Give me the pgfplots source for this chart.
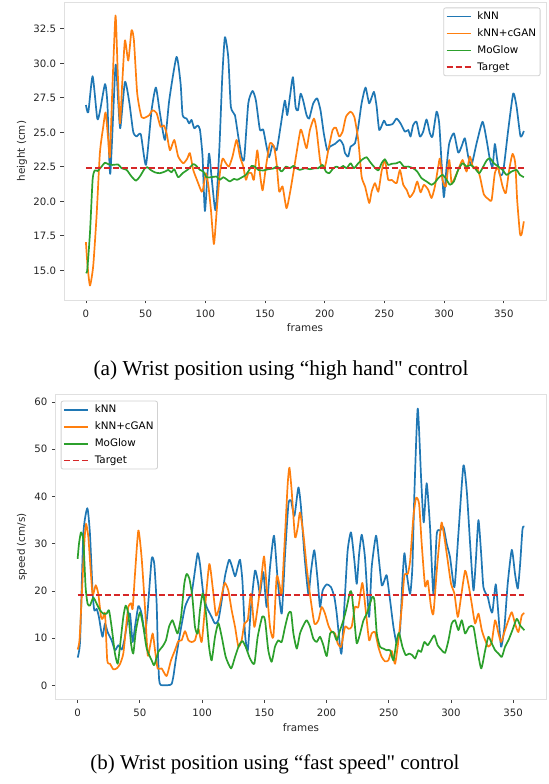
\documentclass[border=0pt]{standalone}
\usepackage{pgfplots}
\pgfplotsset{compat=1.18}
\usepackage{fontspec}
\setmainfont{DejaVu Sans}
\newfontfamily\capfont{Liberation Serif}
\definecolor{c0}{HTML}{1F77B4}
\definecolor{c1}{HTML}{FF7F0E}
\definecolor{c2}{HTML}{2CA02C}
\definecolor{c3}{HTML}{D62728}
\newcommand{\tfont}{\fontsize{10.2}{12}\selectfont}
\newcommand{\lfont}{\fontsize{10.4}{12}\selectfont}
\pgfplotsset{
  mystyle/.style={
    scale only axis,
    anchor=south west,
    axis line style={draw=black!12, line width=0.8bp},
    tick align=outside,
    major tick length=3.5bp,
    tick style={black!75, line width=0.8bp},
    xtick pos=left, ytick pos=left,
    tick label style={font=\tfont, text=black!85},
    xticklabel style={yshift=-2.5bp},
    yticklabel style={xshift=-1bp},
    label style={font=\lfont, text=black!85},
    /pgf/number format/assume math mode=true,
    legend cell align=left,
    legend style={font=\lfont, draw=black!18, line width=0.8bp, rounded corners=2pt, fill=white, inner xsep=2bp, inner ysep=2bp, row sep=3.6bp, /tikz/every odd column/.append style={column sep=4bp}},
    legend image code/.code={\draw[##1, line width=1.7bp] (0bp,0bp) -- (24bp,0bp);},
    every axis plot/.append style={line width=1.7bp, line join=round, smooth, tension=0.35},
  }
}
\begin{document}
\begin{tikzpicture}
\path[use as bounding box] (0bp,0bp) rectangle (549bp,784bp);
% ---------------- top plot
\begin{axis}[mystyle,
  at={(64bp,484bp)}, width=482bp, height=298bp,
  xmin=-18.35, xmax=385.35, ymin=12.85, ymax=34.45,
  xtick={0,50,...,350},
  ytick={15,17.5,20,22.5,25,27.5,30,32.5},
  yticklabel style={/pgf/number format/.cd, fixed, fixed zerofill, precision=1},
  xlabel={frames}, ylabel={height (cm)},
  xlabel style={at={(axis description cs:0.5,-0.094)}, anchor=center},
  ylabel style={at={(axis description cs:-0.0871,0.5)}, anchor=center},
  legend style={at={(1,1)}, anchor=north east, xshift=-5.5bp, yshift=-5.5bp},
]
\addplot[c0] coordinates {
(0,26.98)(2,26.45)(5.6,29.07)(9.5,26.0)(11.7,26.5)(16,28.5)(18,27.1)(20.4,22.0)(24.8,29.86)(27,27.3)(28.8,25.3)(32.7,28.66)(36.3,27.2)(39.6,25.05)(42.4,24.7)(46,24.86)(50.3,22.64)(55,26.6)(58.6,28.25)(62,26.4)(66.2,24.45)(69.8,27.34)(75.9,30.47)(79.3,28.54)(81,26.25)(84.3,26.0)(86.5,25.65)(88.5,25.9)(90.7,25.3)(93.5,25.5)(95.5,25.2)(97.7,23.25)(99.7,19.3)(103,23.44)(105.2,21.8)(108.6,19.35)(111.7,23.7)(114.2,29.0)(116.4,31.9)(119.2,30.47)(121.4,26.86)(124.8,26.25)(127.6,24.7)(130.4,23.25)(132.6,23.1)(136,27.1)(139.6,28.0)(142.4,27.3)(145.7,25.2)(148.5,25.2)(151.3,23.97)(153.5,23.2)(156.3,24.1)(159.7,23.7)(163,25.4)(166.6,27.3)(168.6,26.25)(170.9,27.6)(173.4,29.0)(175.6,26.86)(177.6,26.6)(179.8,27.8)(182,27.3)(184.8,26.25)(187,26.0)(190.4,27.1)(193.7,27.46)(196.5,26.6)(199.3,24.9)(202.1,23.7)(204.4,23.97)(208.5,24.16)(212.7,24.45)(215.5,24.1)(217,23.5)(219.7,23.25)(221.7,23.97)(225.3,24.2)(228.1,25.4)(230.9,27.1)(234.2,28.25)(237.3,27.1)(241.2,27.94)(243.5,26.86)(245.7,25.17)(249.6,25.85)(251.8,25.53)(256.8,25.6)(260.2,26.0)(263.5,25.65)(267.2,25.05)(270,25.17)(271.9,24.7)(274.1,25.53)(276.9,25.77)(279.7,24.7)(282.5,25.05)(285.3,25.94)(288.1,24.93)(290.3,24.7)(293.7,26.5)(295.9,25.65)(297.9,22.76)(299.8,20.3)(302.1,22.52)(304.3,24.2)(308.2,24.93)(311.8,23.53)(314.6,23.97)(317.4,24.57)(320.2,23.25)(323,22.64)(327.2,24.2)(332.2,25.77)(335.6,24.45)(338.4,23.0)(340.6,22.52)(342.5,24.16)(344.5,23.0)(346.7,21.92)(349.5,22.16)(353.7,25.17)(357.9,27.82)(360.7,26.86)(364,24.7)(366.8,25.1)
};
\addlegendentry{kNN}
\addplot[c1] coordinates {
(0,17.04)(1.4,15.3)(3.4,13.9)(6.1,15.3)(8.9,18.9)(11.7,23.5)(14.5,25.4)(16.5,26.45)(18.7,24.45)(20.1,23.25)(22.3,28.5)(24.8,33.47)(26.5,29.74)(28.5,25.65)(30.4,28.54)(32.7,31.67)(35.5,30.2)(38.2,32.4)(40.2,31.67)(43,27.8)(46.6,26.1)(50.3,26.1)(53,26.25)(55.8,26.6)(59.2,26.4)(62.5,25.4)(65.3,25.5)(67.6,24.93)(70.4,23.7)(74,24.45)(77.3,23.25)(81.5,22.76)(84.9,23.1)(87.1,23.5)(89.9,22.28)(93.5,21.44)(96.9,20.7)(98.3,20.96)(100.5,22.04)(102.5,21.2)(104.7,19.4)(107.2,16.9)(109.4,19.15)(112.2,22.04)(114.5,23.1)(117,22.8)(119.8,22.52)(122.8,23.25)(126.2,24.45)(129,23.25)(131.8,22.52)(134,21.56)(136,22.04)(138.7,22.04)(140.7,21.56)(143.5,23.7)(145.7,22.04)(148,20.8)(150.8,22.52)(154.1,24.2)(157.5,23.97)(159.7,22.76)(161.9,20.7)(164.7,21.08)(168,19.5)(170.9,20.6)(173.7,22.04)(176.4,23.5)(179.8,25.2)(182,24.7)(184.8,23.85)(187.6,25.17)(191,26.0)(193.2,25.17)(196.5,22.76)(200.2,22.52)(203,23.7)(206.6,25.17)(209.4,25.34)(212.2,24.7)(215,25.05)(217.8,26.13)(221.7,26.5)(224.8,26.13)(228.1,24.45)(230.9,21.8)(233.8,21.08)(237.3,19.88)(239.3,20.7)(242.1,21.32)(244.9,20.7)(247.6,22.16)(250.4,23.0)(253.2,21.56)(256,21.56)(260.2,21.32)(263,22.28)(265.8,21.2)(268.6,20.84)(271.3,20.3)(274.7,20.7)(277.5,21.44)(280.3,20.65)(283.1,21.2)(286.7,20.84)(289.5,20.24)(292.3,21.08)(295.1,22.52)(296.5,23.1)(298.7,21.56)(301.5,21.08)(304.3,23.0)(306.2,21.32)(308.2,21.56)(311.8,22.28)(315.5,23.0)(318.8,22.16)(321.6,23.25)(324.4,22.4)(327.2,22.52)(330,21.8)(333.3,20.5)(337,20.17)(339.8,20.1)(342.5,22.04)(345.3,22.4)(349,21.08)(351.7,20.6)(354.5,22.28)(357.3,23.44)(359.6,22.76)(361.2,20.1)(363.5,17.7)(364.9,17.6)(366.8,18.55)
};
\addlegendentry{kNN+cGAN}
\addplot[c2] coordinates {
(0,14.87)(1.1,15.0)(3.4,17.7)(5.6,21.56)(7.3,22.24)(9.8,22.2)(13.1,22.52)(15.9,22.8)(18.7,22.7)(22.3,22.64)(27,22.67)(29.9,22.4)(34.1,22.28)(38.2,21.8)(41.9,21.5)(45.2,21.8)(49.4,22.4)(51.4,22.48)(54.2,22.28)(57.8,22.1)(62,22.04)(66.2,22.16)(69,22.28)(71.7,22.1)(74,22.33)(77.3,21.75)(81,22.04)(85.7,22.33)(89.9,22.7)(92.1,22.6)(95.5,22.28)(98.3,22.16)(101,21.75)(105.2,21.75)(109.4,21.8)(112.2,21.56)(115,21.75)(117.8,21.6)(120.6,21.44)(124,21.63)(126.7,21.56)(130.4,21.73)(134,21.92)(136.8,22.28)(138.7,22.57)(141.5,22.52)(144.3,22.28)(148.5,22.24)(152.7,22.33)(156.9,22.38)(160.2,22.52)(163.9,22.16)(167.5,22.52)(170.9,22.4)(173.7,22.57)(176.4,22.4)(179.2,22.28)(183.4,22.4)(187.6,22.33)(191.8,22.4)(194.6,22.4)(198.2,22.64)(201,22.16)(203.8,22.04)(207.2,22.4)(210,22.52)(212.7,22.4)(215.5,22.57)(218.3,22.4)(221.7,22.76)(224.5,22.4)(228.1,22.76)(231.7,23.05)(235.1,23.2)(237.8,22.88)(241.2,22.52)(244.9,22.24)(247.6,22.76)(250.4,23.05)(253.2,22.64)(256,22.72)(260.2,22.76)(263,22.86)(266.3,22.52)(270,22.52)(274.1,22.4)(277.5,22.16)(281.1,21.68)(285.3,21.44)(289.5,21.2)(292.3,21.37)(295.1,21.68)(298.7,21.92)(302.1,21.56)(304.9,21.2)(308.2,21.44)(311.8,22.28)(315.5,22.76)(318.8,22.52)(322.2,22.64)(325.8,22.4)(329.4,22.04)(332.8,22.52)(335.6,22.96)(338.4,23.13)(341.7,22.76)(345.3,22.52)(349,22.28)(352.3,21.92)(356.5,22.16)(360.7,22.28)(363.5,21.92)(366.8,21.75)
};
\addlegendentry{MoGlow}
\addplot[c3, sharp plot, dash pattern=on 6bp off 3bp] coordinates {(0,22.4)(367,22.4)};
\addlegendentry{Target}
\end{axis}
% ---------------- bottom plot
\begin{axis}[mystyle,
  at={(55.3bp,84.7bp)}, width=491.4bp, height=304.6bp,
  xmin=-17.95, xmax=376.95, ymin=-2.93, ymax=61.53,
  xtick={0,50,...,350},
  ytick={0,10,...,60},
  xlabel={frames}, ylabel={speed (cm/s)},
  xlabel style={at={(axis description cs:0.5,-0.0942)}, anchor=center},
  ylabel style={at={(axis description cs:-0.0678,0.5)}, anchor=center},
  legend style={at={(0,1)}, anchor=north west, xshift=5.4bp, yshift=-6bp},
]
\addplot[c0] coordinates {
(0,5.9)(2,9.56)(4.6,32.1)(7.8,37.5)(9.9,32.1)(12.1,19.4)(13.4,15.9)(15.3,16.2)(17.1,14.5)(18.8,11.7)(20.1,10.3)(22,13.1)(24.1,11.3)(27.3,9.56)(30,7.45)(32.7,8.5)(35.4,7.6)(37.5,9.56)(40.2,13.8)(42.1,15.2)(44.2,9.2)(46.1,12.4)(48.8,16.8)(51.4,15.2)(54.1,11.0)(56.3,15.9)(59.5,26.8)(61.6,25.7)(63.5,17.3)(64.5,7)(65.5,1.2)(66.8,0.1)(72.9,0.07)(75.5,0.3)(77,2)(78.8,5.34)(82.3,11)(86.3,16.6)(89.8,18.7)(91.6,19.4)(94.3,24.3)(96.5,28.0)(98.3,25.7)(101,19.4)(103.7,16.6)(107.7,14.5)(110.4,13.1)(113.1,13.8)(115.8,18)(118.4,23.1)(121.7,26.6)(123.8,25.4)(126.5,23.1)(128.6,25.0)(130.5,26.6)(132.4,22.2)(134.5,11.0)(136.7,7.3)(139.3,16.6)(142.5,24.3)(144.7,22.2)(146.6,19.4)(149.2,24)(151.9,16.6)(154.6,25)(157.8,31.7)(160.8,22.2)(164,15.2)(166.7,27.8)(169.4,38.4)(171.5,39.1)(174.2,35.9)(177.4,41.9)(179.5,37.7)(182.2,27.8)(185.4,19.4)(187.6,24.3)(190.2,28.6)(192.9,22.2)(194.8,16.6)(196.9,20.1)(200.2,21.4)(203.6,20.8)(206.3,18.7)(208.2,15.2)(210.9,8.2)(212.2,7.1)(214.9,19.4)(217,28.6)(219.7,32.4)(222.4,26.4)(224.3,21.5)(226.2,27.8)(228.3,31.9)(230.9,27.1)(234.2,14.5)(236.3,25)(239.8,31.7)(242.2,26.4)(244.4,21.2)(246.5,22.2)(248.4,23.3)(251.1,18)(253.8,12.4)(256.4,8.9)(259.1,11.7)(261,22.2)(262.6,28.0)(264.5,23.6)(267.2,19.4)(269,25)(270.6,40.5)(273.3,58.6)(276,44)(278.1,34.5)(280.5,42.8)(283.2,33.5)(285.9,19.4)(288.6,32.1)(291.3,32.8)(294,33.5)(296.6,30)(299.3,27.1)(302.8,20.8)(306,32.1)(310,46.5)(312.7,41.2)(315.4,30)(318.1,20.1)(320,26.4)(322.1,35)(324.3,27.8)(326.1,20.8)(329.6,18.7)(331.4,16.6)(333.3,15.5)(336,21.4)(338.1,15.2)(340.3,8.2)(343,12.4)(345.6,21.5)(348.9,28.7)(351.5,23.6)(353.7,20.5)(355.6,25.7)(357.5,33.1)(359,33.6)
};
\addlegendentry{kNN}
\addplot[c1] coordinates {
(0,7.6)(1.5,9.56)(3.4,19.4)(5.5,30.7)(6.8,34.2)(8.6,31.4)(10.5,24.3)(12.1,19.1)(14.5,21.2)(16.6,19.4)(18.8,14.5)(20.1,14.1)(22,15.2)(23.8,5.3)(26,4.6)(28.7,3.4)(31.4,3.6)(34,4.5)(36.7,6.75)(38.9,12.4)(40.7,16.6)(42.9,17.4)(44.2,16.2)(46.1,23.6)(48.8,32.8)(51.4,27.1)(54.1,16.6)(56.3,6.4)(58.1,8.2)(60.3,11)(62.2,7.45)(64.3,3.6)(67.5,3.6)(71.5,2.0)(75,5.3)(78.2,7.45)(80.9,9.4)(83.6,9.56)(86.3,11.5)(89,9.56)(91.6,9.2)(94.3,9.56)(97,12)(99.7,9.2)(102.4,16.6)(105.8,25.7)(108.5,20.8)(111.2,14.8)(113.9,16.6)(116.6,20.1)(118.4,21.7)(121.1,20.1)(123.8,15.9)(126.5,12.4)(129.2,8.2)(131.8,9.56)(134,13.1)(136.7,13.8)(139.3,19.4)(142,12.4)(144.7,16.6)(147.4,22.2)(149.8,27.3)(151.9,20.8)(154.6,12.4)(157.3,10.3)(159.9,22.9)(162.1,21.5)(164,19.4)(166.7,32.1)(168.8,42.6)(170.2,46.1)(172,41.2)(174.7,31.4)(176.9,33.5)(178.7,36.6)(181.4,32.1)(184.1,25)(186.8,19.1)(190.3,13.1)(193.5,13.8)(196.1,16.6)(198.8,15.2)(201.5,12.7)(204.2,11.3)(206.9,11)(209,8.9)(211.7,8.2)(214.9,12.4)(217.6,12)(220.2,12.4)(222.9,16.6)(225.6,16.6)(228.8,21.7)(231.5,15.9)(234.2,9.56)(236.3,11)(239,11.3)(241.6,8.2)(244.3,6.05)(247,5.1)(249.7,5.3)(252.4,7.3)(255.1,4.6)(257.8,9.56)(260.5,16.6)(262.6,23.3)(265.3,23.6)(267.2,26.4)(269.8,35.6)(272,39.7)(274.4,38.4)(276.5,30)(279.2,21)(281.3,22.2)(284,16.6)(285.9,15.2)(288.6,24.3)(291.3,32.1)(292.6,34.5)(294.7,31.4)(297.4,26.4)(300.1,21.5)(302.8,19.4)(305.5,14.5)(308.1,18.7)(311.4,24.3)(314,21.5)(316.7,17.3)(319.4,13.1)(322.1,15.2)(324.8,11.7)(327.5,9.56)(330.1,8.2)(332.8,9.2)(335.5,13.8)(338.2,11)(340.3,9.2)(343.5,11.7)(346.2,13.8)(348.9,15.5)(351.5,13.1)(354.2,11.3)(356.9,14.8)(359,15.3)
};
\addlegendentry{kNN+cGAN}
\addplot[c2] coordinates {
(0,26.8)(1.1,30)(2.7,32.4)(4.6,30.7)(6.4,20.8)(8,17.3)(9.9,16.9)(12.6,18.6)(15.3,17.3)(18,15.9)(20.6,15.2)(23.3,15.2)(25.2,15.9)(27.3,12.4)(30,6.75)(32.2,4.6)(34,8.2)(36.7,14.5)(38.6,16.9)(40.7,15.2)(42.9,8.9)(44.7,6.75)(46.9,11.7)(50.1,15.5)(52.8,12.4)(55.5,7.8)(59.5,5.3)(61.6,4.3)(64.8,7.1)(68.1,8.2)(71,9.56)(73.4,12.4)(76.1,13.8)(78.2,12.4)(80.4,11)(83.1,14.5)(85.7,21.5)(87.6,23.6)(89.8,22.6)(92.2,18.7)(94.3,12.4)(96.5,11)(98.3,15.9)(100.5,19.5)(102.9,15.9)(105.6,8.2)(107.7,5.3)(110.4,10.3)(113.1,13.2)(115.8,10.3)(119,6.05)(123.3,3.6)(126.5,6.05)(129.7,8.5)(132.4,9.4)(135,8.2)(138.5,5.7)(142,4.6)(144.7,10.3)(148.4,14.6)(150.6,13.8)(153.2,7.45)(155.9,5)(158.6,8.2)(161.3,9.56)(164,9.2)(166.7,12.4)(169.4,15.2)(171.5,15.5)(173.4,11)(176.1,7.8)(178.7,11)(181.4,12.7)(184.1,13.8)(186.8,12.4)(189.4,9.9)(192.1,9.2)(194.8,10.3)(197.5,8.5)(200.2,6.2)(202.9,11)(205.6,11.3)(208.2,9.56)(210.9,11.7)(213.6,13.8)(216.3,16.6)(218.9,19.8)(220.3,19.5)(222.4,13.8)(224.3,8.9)(227,11)(229.7,13.8)(232.4,15.2)(235,17.3)(236.9,18.8)(238.5,18)(240.4,11)(243,8.2)(245.7,7.8)(248.4,7.45)(251.1,7.45)(253.8,5.3)(256.4,9.56)(258.3,11.1)(261,8.2)(263.7,6.4)(266.3,6.75)(269,6.4)(271.2,5.7)(273.8,7.45)(276,7.1)(278.6,9.2)(281.3,8.5)(284,9.56)(286.7,10.6)(289.3,8.5)(292.6,7.45)(295.3,6.9)(298,9.56)(300.6,13.1)(303.3,13.8)(306,11.7)(308.7,13.8)(311.4,11)(314.6,12.4)(318.1,12.4)(320.8,8.2)(324.3,3.6)(327.5,7.45)(330.1,10.3)(332.8,8.9)(335.5,7.45)(338.2,6.75)(340.9,6.05)(343.5,8.2)(346.2,9.56)(349.4,11.7)(352.9,14.1)(355.6,12.7)(359,11.7)
};
\addlegendentry{MoGlow}
\addplot[c3, sharp plot, dash pattern=on 6bp off 3bp] coordinates {(0,19.1)(359,19.1)};
\addlegendentry{Target}
\end{axis}
% ---------------- captions
\node[anchor=base, inner sep=0pt, font=\capfont\fontsize{21.4}{24}\selectfont] at (281bp,408bp) {(a) Wrist position using “high hand" control};
\node[anchor=base, inner sep=0pt, font=\capfont\fontsize{21}{24}\selectfont] at (275bp,14.7bp) {(b) Wrist position using “fast speed" control};
\end{tikzpicture}
\end{document}
